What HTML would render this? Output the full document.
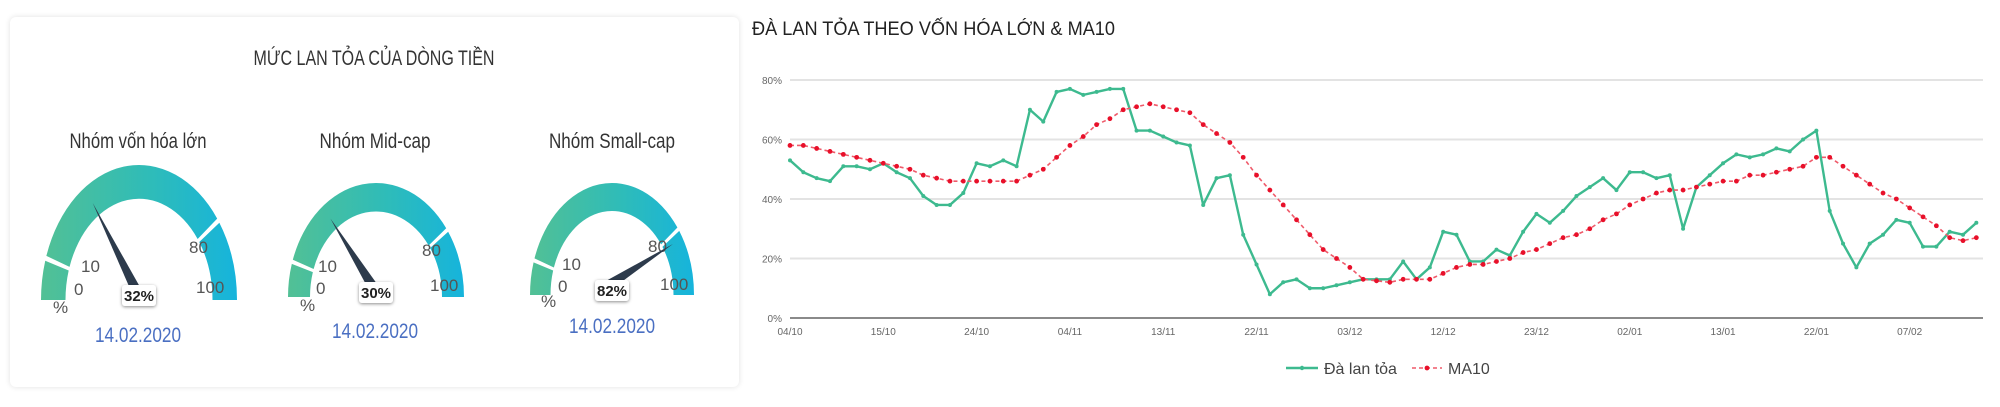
<!DOCTYPE html>
<html><head><meta charset="utf-8">
<style>
html,body{margin:0;padding:0;background:#fff;}
body{width:2000px;height:407px;overflow:hidden;position:relative;font-family:"Liberation Sans","DejaVu Sans",sans-serif;}
#card{position:absolute;left:10px;top:17px;width:729px;height:370px;background:#fff;border-radius:6px;box-shadow:0 0 6px rgba(0,0,0,0.12);}
svg{position:absolute;left:0;top:0;}
</style></head>
<body>
<div id="card"></div>
<svg id="g" width="2000" height="407" xmlns="http://www.w3.org/2000/svg">
<defs>
<linearGradient id="gr" x1="-100" y1="0" x2="100" y2="0" gradientUnits="userSpaceOnUse">
<stop offset="0" stop-color="#52c095"/><stop offset="0.55" stop-color="#2fbcb8"/><stop offset="1" stop-color="#16b4dc"/>
</linearGradient>
<filter id="sh" x="-30%" y="-30%" width="160%" height="160%"><feDropShadow dx="0" dy="1" stdDeviation="1.5" flood-opacity="0.45"/></filter>
</defs>
<text x="374" y="65" text-anchor="middle" font-size="21" fill="#333" textLength="241" lengthAdjust="spacingAndGlyphs">MỨC LAN TỎA CỦA DÒNG TIỀN</text>
<g id="gauges"></g>
<text x="752" y="35" font-size="19" fill="#222" textLength="363" lengthAdjust="spacingAndGlyphs">ĐÀ LAN TỎA THEO VỐN HÓA LỚN &amp; MA10</text>
<g id="chart"></g>
</svg>
<script>
// Gauge data
const gaugeNames=["Nhóm vốn hóa lớn","Nhóm Mid-cap","Nhóm Small-cap"];
const gaugeValues=[32,30,82];
const gaugeDates=["14.02.2020","14.02.2020","14.02.2020"];

// Chart data
const xLabels=["04/10","15/10","24/10","04/11","13/11","22/11","03/12","12/12","23/12","02/01","13/01","22/01","07/02"];
const yTicks=[0,20,40,60,80];
const spread=[53,49,47,46,51,51,50,52,49,47,41,38,38,42,52,51,53,51,70,66,76,77,75,76,77,77,63,63,61,59,58,38,47,48,28,18,8,12,13,10,10,11,12,13,13,13,19,13,17,29,28,19,19,23,21,29,35,32,36,41,44,47,43,49,49,47,48,30,44,48,52,55,54,55,57,56,60,63,36,25,17,25,28,33,32,24,24,29,28,32];
const ma10=[58,58,57,56,55,54,53,52,51,50,48,47,46,46,46,46,46,46,48,50,54,58,61,65,67,70,71,72,71,70,69,65,62,59,54,48,43,38,33,28,23,20,17,13,12.5,12,13,13,13,15,17,18,18,19,20,22,23,25,27,28,30,33,35,38,40,42,43,43,44,45,46,46,48,48,49,50,51,54,54,51,48,45,42,40,37,34,31,27,26,27];

const NS="http://www.w3.org/2000/svg";
function mk(tag,attrs,parent){const e=document.createElementNS(NS,tag);for(const k in attrs)e.setAttribute(k,attrs[k]);parent.appendChild(e);return e;}

// ---- gauges ----
const gl=[
 {cx:139,cy:300,rx:98,ry:135,tx:138,ty:148,tw:137,dy:342,lbl:[[74,295,"0"],[81,272,"10"],[189,253,"80"],[196,293,"100"],[53,313,"%"]]},
 {cx:376,cy:297,rx:88,ry:114,tx:375,ty:148,tw:111,dy:338,lbl:[[316,294,"0"],[318,272,"10"],[422,256,"80"],[430,291,"100"],[300,311,"%"]]},
 {cx:612,cy:295,rx:82,ry:112,tx:612,ty:148,tw:126,dy:333,lbl:[[558,292,"0"],[562,270,"10"],[648,252,"80"],[660,290,"100"],[541,307,"%"]]}
];
const G=document.getElementById('gauges');
function pt(r,deg){const a=deg*Math.PI/180;return [r*Math.cos(a),-r*Math.sin(a)];}
function band(g,v0,v1){
  const a0=180-v0*1.8,a1=180-v1*1.8,R=100,r=75;
  const p0=pt(R,a0),p1=pt(R,a1),q1=pt(r,a1),q0=pt(r,a0);
  return mk('path',{d:`M${p0[0]},${p0[1]} A${R},${R} 0 0 1 ${p1[0]},${p1[1]} L${q1[0]},${q1[1]} A${r},${r} 0 0 0 ${q0[0]},${q0[1]}Z`,fill:'url(#gr)'},g);
}
gaugeValues.forEach((v,i)=>{
  const L=gl[i];
  const t=mk('text',{x:L.tx,y:L.ty,'text-anchor':'middle','font-size':21,fill:'#333',textLength:L.tw,lengthAdjust:'spacingAndGlyphs'},G);
  t.textContent=gaugeNames[i];
  
  
  const g=mk('g',{transform:`translate(${L.cx},${L.cy}) scale(${L.rx/100},${L.ry/100})`},G);
  
  
  band(g,0,9.4);band(g,10.6,79.4);band(g,80.6,100);
  L.lbl.forEach(l=>{const s=mk('text',{x:l[0],y:l[1],'font-size':17,fill:'#555'},G);s.textContent=l[2];
    
    });
  // needle
  const ang=(180-v*1.8)*Math.PI/180;
  const bx=L.cx-3,by=L.cy-10;
  const tx=L.cx+Math.cos(ang)*L.rx*0.88,ty=L.cy-Math.sin(ang)*L.ry*0.85;
  const px=-Math.sin(ang)*5,py=-Math.cos(ang)*5;
  const n=mk('polygon',{points:`${bx+px},${by+py} ${tx},${ty} ${bx-px},${by-py}`,fill:'#2d3b4c'},G);
  
  
  const bw=34,bh=21;
  const r=mk('rect',{x:L.cx-bw/2,y:L.cy-15,width:bw,height:bh,rx:3,fill:'#fff',filter:'url(#sh)'},G);
  
  
  const vt=mk('text',{x:L.cx,y:L.cy+1,'text-anchor':'middle','font-size':15,'font-weight':'bold',fill:'#222'},G);
  vt.textContent=v+'%';
  
  
  const d=mk('text',{x:L.tx,y:L.dy,'text-anchor':'middle','font-size':21,fill:'#4a6fc2',textLength:86,lengthAdjust:'spacingAndGlyphs'},G);
  d.textContent=gaugeDates[i];
  
  
});

// ---- line chart ----
const C=document.getElementById('chart');
const X0=790,X1=1983,Y0=318,Y80=80;
const step=(X1-X0)/(spread.length-0.5);
const xs=i=>X0+i*step;
const ys=v=>Y0-v*(Y0-Y80)/80;
yTicks.forEach(t=>{
  const l=mk('line',{x1:X0,x2:X1,y1:ys(t),y2:ys(t),stroke:t===0?'#8a8a8a':'#e3e3e3','stroke-width':2},C);
  
  
  const tx=mk('text',{x:782,y:ys(t)+4,'text-anchor':'end','font-size':10,fill:'#666'},C);
  tx.textContent=t+'%';
  
  
});
xLabels.forEach((s,k)=>{
  const t=mk('text',{x:xs(k*7),y:335,'text-anchor':'middle','font-size':10,fill:'#666'},C);
  t.textContent=s;
  
  
});
const gp=spread.map((v,i)=>xs(i)+','+ys(v)).join(' ');
const gl1=mk('polyline',{points:gp,fill:'none',stroke:'#3dba8f','stroke-width':2.4,'stroke-linejoin':'round'},C);


spread.forEach((v,i)=>{const c=mk('circle',{cx:xs(i),cy:ys(v),r:2,fill:'#3dba8f'},C);
  
  });
const mp=ma10.map((v,i)=>xs(i)+','+ys(v)).join(' ');
const ml=mk('polyline',{points:mp,fill:'none',stroke:'#ef5a6a','stroke-width':1.6,'stroke-dasharray':'4 3'},C);


ma10.forEach((v,i)=>{const c=mk('circle',{cx:xs(i),cy:ys(v),r:2.4,fill:'#e8102a'},C);
  
  });
// legend
const lg=mk('g',{},C);


mk('line',{x1:1286,x2:1318,y1:368,y2:368,stroke:'#3dba8f','stroke-width':2.4},lg);
mk('circle',{cx:1302,cy:368,r:2.2,fill:'#3dba8f'},lg);
const l1=mk('text',{x:1324,y:374,'font-size':16,fill:'#444'},lg);l1.textContent='Đà lan tỏa';


mk('line',{x1:1412,x2:1442,y1:368,y2:368,stroke:'#ef5a6a','stroke-width':1.6,'stroke-dasharray':'4 3'},lg);
mk('circle',{cx:1427,cy:368,r:2.4,fill:'#e8102a'},lg);
const l2=mk('text',{x:1448,y:374,'font-size':16,fill:'#444'},lg);l2.textContent='MA10';


</script>
</body></html>
